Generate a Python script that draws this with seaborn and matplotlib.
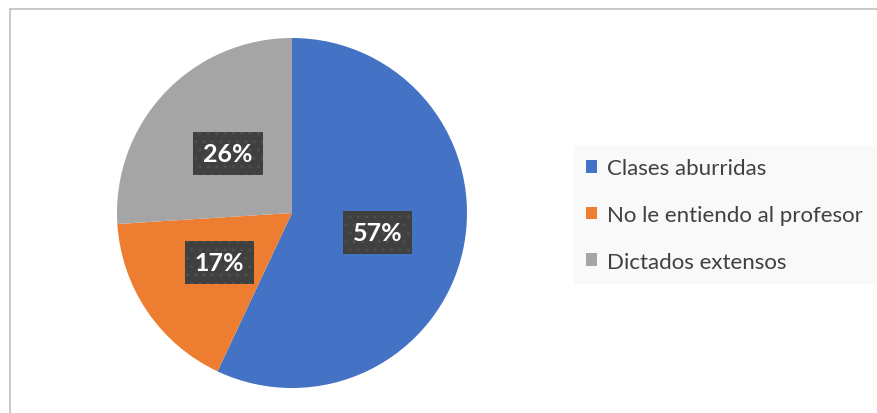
import matplotlib
matplotlib.use("Agg")
import matplotlib.pyplot as plt
import seaborn as sns
from matplotlib.lines import Line2D
from matplotlib.patches import Patch

categories = ["Clases aburridas", "No le entiendo al profesor", "Dictados extensos"]
values = [57, 17, 26]
colors = ["#4472C4", "#ED7D31", "#A5A5A5"]

sns.set_theme(style="white")
plt.rcParams["font.family"] = ["Lato", "DejaVu Sans"]

W, H = 877, 414
fig = plt.figure(figsize=(W / 100, H / 100), dpi=100)
fig.patch.set_facecolor("white")

# pie axes: center (292, 214) px from top, radius 175 px
cx, cy, r = 292, 214, 175
ax = fig.add_axes([(cx - r) / W, (H - cy - r) / H, 2 * r / W, 2 * r / H])
wedges, texts = ax.pie(
    values, colors=colors, startangle=90, counterclock=False,
    labels=[f"{v}%" for v in values], labeldistance=0.5,
    wedgeprops=dict(linewidth=0),
    textprops=dict(color="white", fontsize=18, fontweight="bold",
                   ha="center", va="center"),
)
for t in texts:
    t.set_bbox(dict(boxstyle="square,pad=0.4", facecolor="#404040",
                    edgecolor="#4e4e4e", linewidth=0, hatch=".."))
ax.set_xlim(-1, 1)
ax.set_ylim(-1, 1)
ax.set_aspect("equal")
ax.axis("off")

handles = [Patch(facecolor=c, edgecolor="none") for c in colors]
leg = fig.legend(
    handles, categories, loc="upper left",
    bbox_to_anchor=(574 / W, 1 - 147 / H), bbox_transform=fig.transFigure,
    frameon=True, fontsize=16, handlelength=0.48, handleheight=0.48,
    handletextpad=0.45, labelspacing=1.2, borderpad=0.55, borderaxespad=0,
    fancybox=False,
)
leg.get_frame().set_facecolor("#f8f8f8")
leg.get_frame().set_edgecolor("none")
for t in leg.get_texts():
    t.set_color("#404040")

# chart border (top and left visible)
bc = "#bfbfbf"
fig.add_artist(Line2D([9.5 / W, 1], [1 - 9.5 / H, 1 - 9.5 / H],
                      transform=fig.transFigure, color=bc, linewidth=1.2))
fig.add_artist(Line2D([9.5 / W, 9.5 / W], [0, 1 - 9.5 / H],
                      transform=fig.transFigure, color=bc, linewidth=1.2))

fig.savefig("out.png", dpi=100, facecolor="white")
